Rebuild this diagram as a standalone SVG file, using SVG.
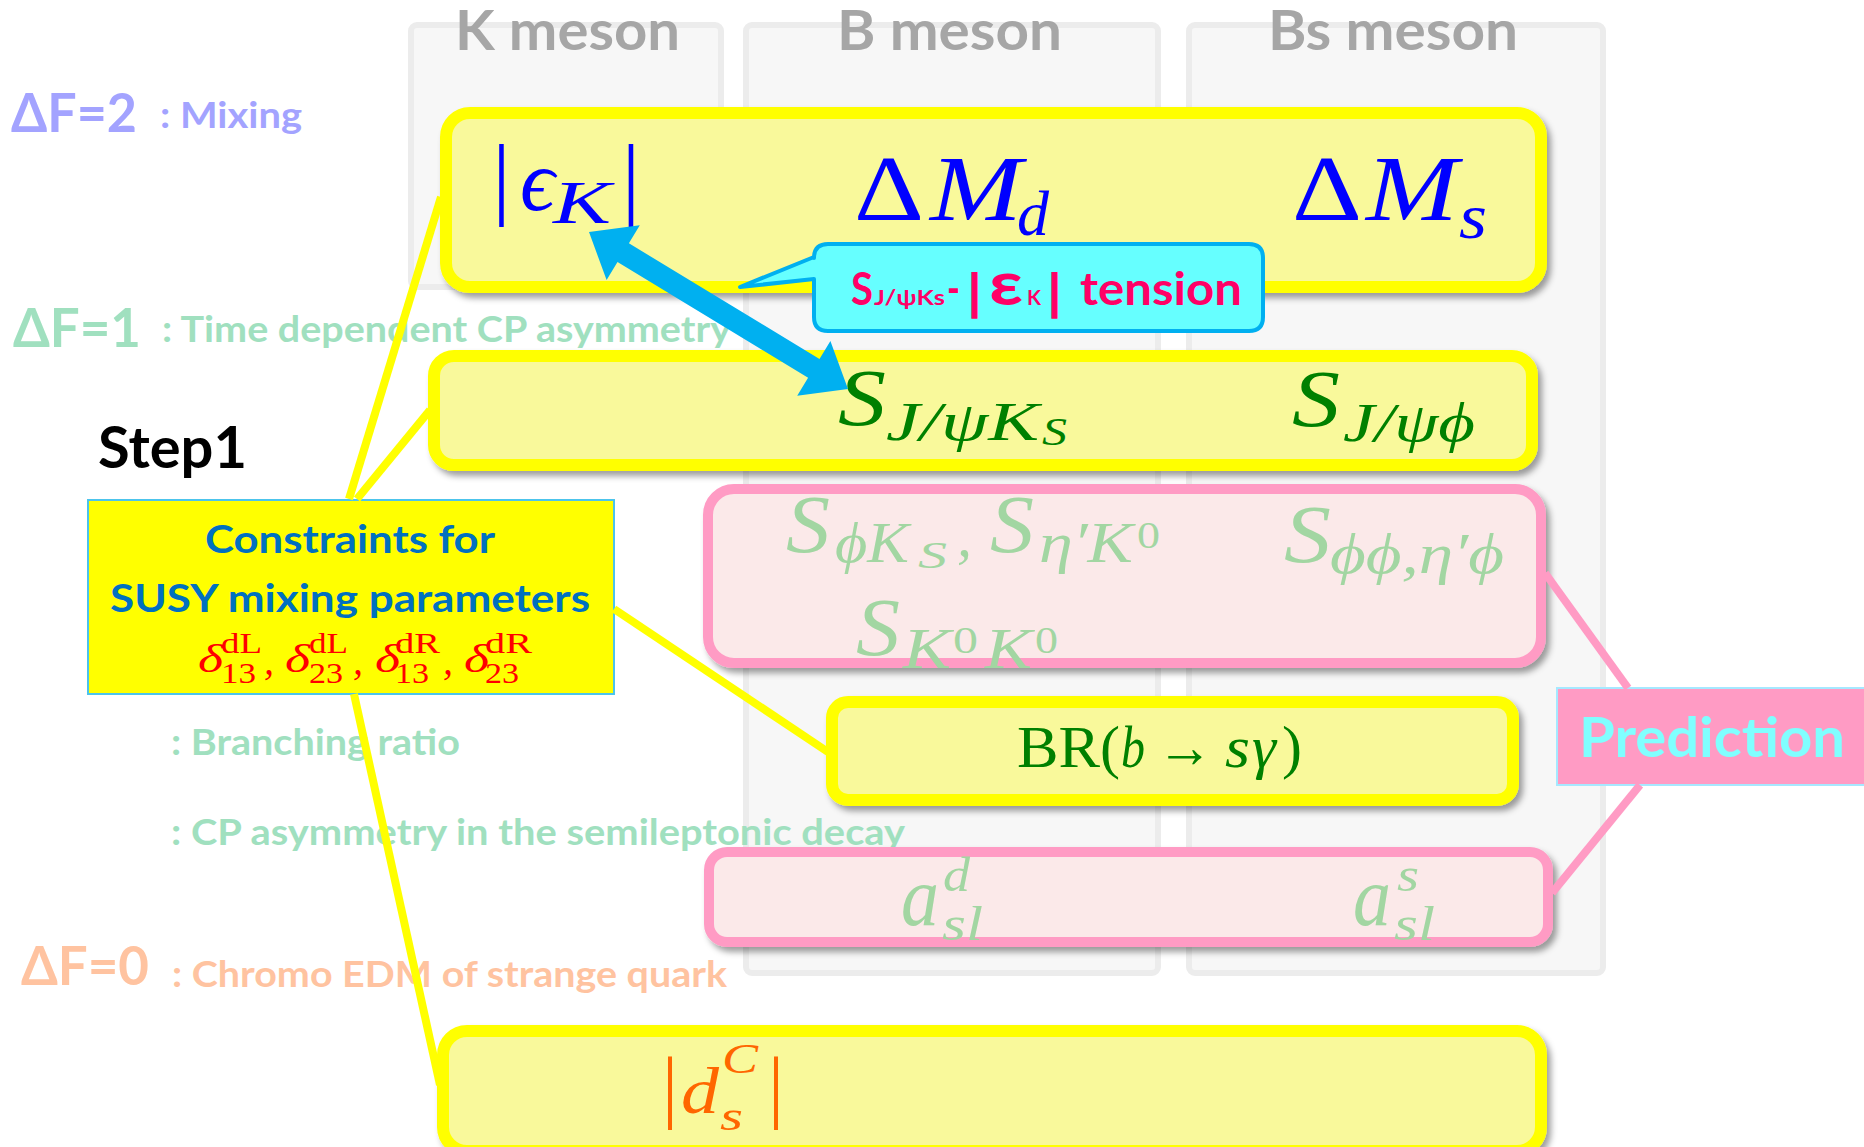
<svg xmlns="http://www.w3.org/2000/svg" width="1864" height="1147" viewBox="0 0 1864 1147">
<defs>
  <filter id="shadow" x="-5%" y="-10%" width="115%" height="140%">
    <feDropShadow dx="4" dy="5" stdDeviation="3" flood-color="#000" flood-opacity="0.38"/>
  </filter>
</defs>
<style>
  .panel { fill:#f7f7f7; stroke:#ececec; stroke-width:6; }
  .sans { font-family: Lato, 'Open Sans', 'Noto Sans', sans-serif; font-weight:700; }
  .hdr { font-size:56px; fill:#a6a6a6; }
  .df { font-size:54px; }
  .desc { font-size:37px; }
  .mix { fill:#a3a3ff; }
  .grn { fill:#a0e0bf; }
  .org { fill:#ffc3a0; }
  .ybox { fill:#f9f99b; stroke:#ffff00; stroke-width:12; filter:url(#shadow); }
  .pbox { fill:#fbe9e9; stroke:#ff9bc4; stroke-width:10; filter:url(#shadow); }
  .m { font-family:'Liberation Serif','DejaVu Serif',serif; font-style:italic; }
  .up { font-style:normal; }
  .blue { fill:#0000ff; }
  .dg { fill:#008000; }
  .lg { fill:#a2d6a2; }
  .red { fill:#ff0000; }
  .or { fill:#ff6600; }
  .yl { stroke:#ffff00; stroke-width:8; fill:none; }
  .pl { stroke:#ff9bc4; stroke-width:8; fill:none; }
</style>

<rect width="1864" height="1147" fill="#ffffff"/>

<!-- column panels -->
<g id="panels">
  <rect class="panel" x="411" y="25" width="310" height="262" rx="6"/>
  <rect class="panel" x="746" y="25" width="412" height="948" rx="6"/>
  <rect class="panel" x="1189" y="25" width="414" height="948" rx="6"/>
</g>

<!-- column headers -->
<g id="headers" class="sans hdr">
  <text x="455" y="50" textLength="225" lengthAdjust="spacingAndGlyphs">K meson</text>
  <text x="837" y="50" textLength="225" lengthAdjust="spacingAndGlyphs">B meson</text>
  <text x="1268" y="50" textLength="250" lengthAdjust="spacingAndGlyphs">Bs meson</text>
</g>

<!-- row labels -->
<g id="row-labels" class="sans">
  <text class="df mix" x="11" y="132" textLength="126" lengthAdjust="spacingAndGlyphs">ΔF=2</text>
  <text class="desc mix" x="160" y="128" textLength="142" lengthAdjust="spacingAndGlyphs">: Mixing</text>
  <text class="df grn" x="13" y="347" textLength="128" lengthAdjust="spacingAndGlyphs">ΔF=1</text>
  <text class="desc grn" x="162" y="342" textLength="569" lengthAdjust="spacingAndGlyphs">: Time dependent CP asymmetry</text>
  <text class="desc grn" x="171" y="755" textLength="289" lengthAdjust="spacingAndGlyphs">: Branching ratio</text>
  <text class="desc grn" x="171" y="845" textLength="734" lengthAdjust="spacingAndGlyphs">: CP asymmetry in the semileptonic decay</text>
  <text class="df org" x="21" y="985" textLength="128" lengthAdjust="spacingAndGlyphs">ΔF=0</text>
  <text class="desc org" x="172" y="987" textLength="555" lengthAdjust="spacingAndGlyphs">: Chromo EDM of strange quark</text>
  <text x="98" y="468" font-size="57" fill="#000000" textLength="149" lengthAdjust="spacingAndGlyphs">Step1</text>
</g>

<!-- ΔF=2 observables -->
<g id="node-mixing">
  <rect class="ybox" x="446" y="113" width="1095" height="174" rx="24"/>
  <g class="m blue">
    <text class="up" x="501.5" y="208" font-size="92" text-anchor="middle">|</text>
    <text x="520" y="210" font-size="86">ϵ</text>
    <text x="553" y="223" font-size="62" textLength="58" lengthAdjust="spacingAndGlyphs">K</text>
    <text class="up" x="631" y="208" font-size="92" text-anchor="middle">|</text>
    <text class="up" x="854" y="220" font-size="94" textLength="70" lengthAdjust="spacingAndGlyphs">Δ</text>
    <text x="930" y="220" font-size="94" textLength="92" lengthAdjust="spacingAndGlyphs">M</text>
    <text x="1017" y="235" font-size="64" textLength="32" lengthAdjust="spacingAndGlyphs">d</text>
    <text class="up" x="1292" y="220" font-size="94" textLength="70" lengthAdjust="spacingAndGlyphs">Δ</text>
    <text x="1366" y="220" font-size="94" textLength="92" lengthAdjust="spacingAndGlyphs">M</text>
    <text x="1459" y="238" font-size="64" textLength="28" lengthAdjust="spacingAndGlyphs">s</text>
  </g>
</g>

<!-- time dependent CP asymmetries -->
<g id="node-sjpsi">
  <rect class="ybox" x="434" y="356" width="1098" height="109" rx="20"/>
  <g class="m dg">
    <text x="838" y="425" font-size="80" textLength="48" lengthAdjust="spacingAndGlyphs">S</text>
    <text x="886" y="440" font-size="55" textLength="153" lengthAdjust="spacingAndGlyphs">J/ψK</text>
    <text x="1042" y="445" font-size="40" textLength="25" lengthAdjust="spacingAndGlyphs">S</text>
    <text x="1292" y="426" font-size="80" textLength="48" lengthAdjust="spacingAndGlyphs">S</text>
    <text x="1343" y="441" font-size="55" textLength="132" lengthAdjust="spacingAndGlyphs">J/ψϕ</text>
  </g>
</g>

<g id="node-penguin">
  <rect class="pbox" x="708" y="489" width="833" height="174" rx="26"/>
  <g class="m lg">
    <text x="786" y="552" font-size="82" textLength="44" lengthAdjust="spacingAndGlyphs">S</text>
    <text x="835" y="562" font-size="56" textLength="74" lengthAdjust="spacingAndGlyphs">ϕK</text>
    <text x="918" y="568" font-size="38" textLength="29" lengthAdjust="spacingAndGlyphs">S</text>
    <text x="957" y="556" font-size="60">,</text>
    <text x="990" y="552" font-size="82" textLength="44" lengthAdjust="spacingAndGlyphs">S</text>
    <text x="1039" y="562" font-size="56" textLength="94" lengthAdjust="spacingAndGlyphs">η′K</text>
    <text class="up" x="1137" y="548" font-size="38" textLength="23" lengthAdjust="spacingAndGlyphs">0</text>
    <text x="1284" y="562" font-size="82" textLength="47" lengthAdjust="spacingAndGlyphs">S</text>
    <text x="1330" y="573" font-size="56" textLength="174" lengthAdjust="spacingAndGlyphs">ϕϕ,η′ϕ</text>
    <text x="856" y="655" font-size="82" textLength="44" lengthAdjust="spacingAndGlyphs">S</text>
    <text x="903" y="668" font-size="56" textLength="48" lengthAdjust="spacingAndGlyphs">K</text>
    <text class="up" x="953" y="653" font-size="38" textLength="25" lengthAdjust="spacingAndGlyphs">0</text>
    <text x="985" y="668" font-size="56" textLength="47" lengthAdjust="spacingAndGlyphs">K</text>
    <text class="up" x="1035" y="653" font-size="38" textLength="23" lengthAdjust="spacingAndGlyphs">0</text>
  </g>
</g>

<!-- branching ratio -->
<g id="node-bsgamma">
  <rect class="ybox" x="832" y="702" width="681" height="98" rx="16"/>
  <g class="m dg">
    <text class="up" x="1017" y="767" font-size="60" textLength="83" lengthAdjust="spacingAndGlyphs">BR</text>
    <text class="up" x="1100" y="767" font-size="60">(</text>
    <text x="1121" y="767" font-size="60" textLength="24" lengthAdjust="spacingAndGlyphs">b</text>
    <text class="up" x="1157" y="767" font-size="60" textLength="56" lengthAdjust="spacingAndGlyphs">→</text>
    <text x="1225" y="767" font-size="60" textLength="25" lengthAdjust="spacingAndGlyphs">s</text>
    <text x="1252" y="767" font-size="60" textLength="24" lengthAdjust="spacingAndGlyphs">γ</text>
    <text class="up" x="1282" y="767" font-size="60">)</text>
  </g>
</g>

<!-- semileptonic asymmetries -->
<g id="node-asl">
  <rect class="pbox" x="709" y="852" width="839" height="90" rx="18"/>
  <g class="m lg">
    <text x="901" y="925" font-size="84" textLength="38" lengthAdjust="spacingAndGlyphs">a</text>
    <text x="943" y="891" font-size="48" textLength="27" lengthAdjust="spacingAndGlyphs">d</text>
    <text x="942" y="940" font-size="48" textLength="41" lengthAdjust="spacingAndGlyphs">sl</text>
    <text x="1353" y="925" font-size="84" textLength="38" lengthAdjust="spacingAndGlyphs">a</text>
    <text x="1397" y="891" font-size="48" textLength="22" lengthAdjust="spacingAndGlyphs">s</text>
    <text x="1394" y="940" font-size="48" textLength="41" lengthAdjust="spacingAndGlyphs">sl</text>
  </g>
</g>

<!-- chromo EDM -->
<g id="node-edm">
  <rect class="ybox" x="443" y="1031" width="1098" height="120" rx="24"/>
  <g class="m or">
    <text class="up" x="670" y="1113" font-size="80" text-anchor="middle">|</text>
    <text x="681" y="1113" font-size="66" textLength="38" lengthAdjust="spacingAndGlyphs">d</text>
    <text x="722" y="1073" font-size="42" textLength="36" lengthAdjust="spacingAndGlyphs">C</text>
    <text x="720" y="1130" font-size="42" textLength="23" lengthAdjust="spacingAndGlyphs">s</text>
    <text class="up" x="776" y="1113" font-size="80" text-anchor="middle">|</text>
  </g>
</g>

<!-- SUSY parameters -->
<g id="node-constraints">
  <rect x="88" y="500" width="526" height="194" fill="#ffff00" stroke="#4cc4ec" stroke-width="2"/>
  <text class="sans" x="205" y="553" font-size="39" fill="#0070c0" textLength="290" lengthAdjust="spacingAndGlyphs">Constraints for</text>
  <text class="sans" x="110" y="612" font-size="39" fill="#0070c0" textLength="480" lengthAdjust="spacingAndGlyphs">SUSY mixing parameters</text>
  <g class="m red">
    <text x="198" y="672" font-size="40" textLength="25" lengthAdjust="spacingAndGlyphs">δ</text>
    <text class="up" x="221" y="653" font-size="30" textLength="41" lengthAdjust="spacingAndGlyphs">dL</text>
    <text class="up" x="221" y="683" font-size="30" textLength="35" lengthAdjust="spacingAndGlyphs">13</text>
    <text x="264" y="674" font-size="40">,</text>
    <text x="285" y="672" font-size="40" textLength="25" lengthAdjust="spacingAndGlyphs">δ</text>
    <text class="up" x="309" y="653" font-size="30" textLength="39" lengthAdjust="spacingAndGlyphs">dL</text>
    <text class="up" x="309" y="683" font-size="30" textLength="34" lengthAdjust="spacingAndGlyphs">23</text>
    <text x="353" y="674" font-size="40">,</text>
    <text x="375" y="672" font-size="40" textLength="25" lengthAdjust="spacingAndGlyphs">δ</text>
    <text class="up" x="395" y="653" font-size="30" textLength="45" lengthAdjust="spacingAndGlyphs">dR</text>
    <text class="up" x="395" y="683" font-size="30" textLength="34" lengthAdjust="spacingAndGlyphs">13</text>
    <text x="443" y="674" font-size="40">,</text>
    <text x="464" y="672" font-size="40" textLength="25" lengthAdjust="spacingAndGlyphs">δ</text>
    <text class="up" x="485" y="653" font-size="30" textLength="47" lengthAdjust="spacingAndGlyphs">dR</text>
    <text class="up" x="485" y="683" font-size="30" textLength="34" lengthAdjust="spacingAndGlyphs">23</text>
  </g>
</g>

<!-- prediction label -->
<g id="node-prediction">
  <rect x="1557" y="688" width="320" height="97" fill="#ff9bc4" stroke="#a6e8ff" stroke-width="2"/>
  <text class="sans" x="1579" y="757" font-size="56" fill="#80ffff" textLength="266" lengthAdjust="spacingAndGlyphs">Prediction</text>
</g>

<!-- connectors -->
<g id="connectors">
  <line class="yl" x1="441" y1="197" x2="349" y2="499"/>
  <line class="yl" x1="430" y1="410" x2="357" y2="499"/>
  <line class="yl" x1="614" y1="609" x2="828" y2="752"/>
  <line class="yl" x1="354" y1="694" x2="440" y2="1085"/>
  <line class="pl" x1="1545" y1="573" x2="1628" y2="688"/>
  <line class="pl" x1="1640" y1="785" x2="1552" y2="893"/>
  <polygon fill="#00b0f0" points="589,232 639.8,225.3 628.9,243.3 819.5,358.9 830.4,340.9 848,389 797.2,395.7 808.1,377.7 617.5,262.1 606.6,280.1"/>
</g>

<!-- tension callout -->
<g id="node-tension">
  <path d="M828,244 H1249 Q1263,244 1263,258 V317 Q1263,331 1249,331 H828 Q814,331 814,317 V279 L740,287 L814,257 V258 Q814,244 828,244 Z" fill="#66ffff" stroke="#00b0f0" stroke-width="4" stroke-linejoin="round"/>
  <g class="sans" fill="#ff0066">
    <text x="851" y="305" font-size="46" textLength="22" lengthAdjust="spacingAndGlyphs">S</text>
    <text x="874" y="305" font-size="21" textLength="71" lengthAdjust="spacingAndGlyphs">J/ψKs</text>
    <text x="947" y="305" font-size="46" textLength="13" lengthAdjust="spacingAndGlyphs">-</text>
    <text x="974.5" y="310" font-size="48" text-anchor="middle" stroke="#ff0066" stroke-width="1.5">|</text>
    <text x="989" y="305" font-size="62" textLength="34" lengthAdjust="spacingAndGlyphs">ε</text>
    <text x="1027" y="305" font-size="21" textLength="14" lengthAdjust="spacingAndGlyphs">K</text>
    <text x="1054.5" y="310" font-size="48" text-anchor="middle" stroke="#ff0066" stroke-width="1.5">|</text>
    <text x="1080" y="305" font-size="46" textLength="162" lengthAdjust="spacingAndGlyphs">tension</text>
  </g>
</g>
</svg>
